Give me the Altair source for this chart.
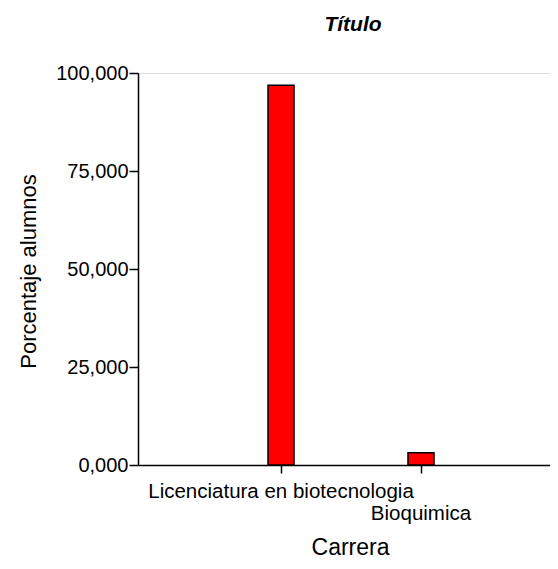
import altair as alt
import pandas as pd

carreras = ["Licenciatura en biotecnologia", "Bioquimica"]
porcentajes = [96.9, 3.1]
y_ticks = [0, 25, 50, 75, 100]

df = pd.DataFrame({"Carrera": carreras, "Porcentaje": porcentajes})

FONT = "Liberation Sans"

bars = alt.Chart(df).mark_bar(
    color="#FF0000", stroke="black", strokeWidth=1.5
).encode(
    x=alt.X(
        "Carrera:N",
        sort=carreras,
        scale=alt.Scale(paddingInner=0.814, paddingOuter=0.8786, align=0.5285),
        axis=alt.Axis(
            title="Carrera",
            labelAngle=0,
            labelFont=FONT,
            labelFontSize=20.5,
            labelColor="black",
            labelBaseline="top",
            labelPadding=8,
            labelLineHeight=22,
            labelExpr="datum.value == 'Bioquimica' ? ['', datum.value] : datum.value",
            labelLimit=0,
            tickSize=8,
            tickColor="black",
            tickWidth=1.5,
            domainColor="black",
            domainWidth=1.5,
            titleFont=FONT,
            titleFontSize=23,
            titleFontWeight="normal",
            titleColor="black",
            titleX=212,
            titleY=89,
            titleBaseline="alphabetic",
            titleAlign="center",
        ),
    ),
    y=alt.Y(
        "Porcentaje:Q",
        scale=alt.Scale(domain=[0, 100], nice=False),
        axis=alt.Axis(
            title="Porcentaje alumnos",
            values=y_ticks,
            labelExpr="replace(format(datum.value, '.3f'), '.', ',')",
            labelFont=FONT,
            labelFontSize=20,
            labelColor="black",
            labelPadding=1,
            tickSize=9,
            tickColor="black",
            tickWidth=1.5,
            domainColor="black",
            domainWidth=1.5,
            grid=False,
            titleFont=FONT,
            titleFontSize=22,
            titleFontWeight="normal",
            titleColor="black",
            titleAngle=-90,
            titleX=-103,
            titleY=198,
            titleBaseline="alphabetic",
            titleAlign="center",
        ),
    ),
)

chart = bars.properties(
    width=412,
    height=392,
    title=alt.TitleParams(
        "Título",
        font=FONT,
        fontSize=21,
        fontWeight="bold",
        fontStyle="italic",
        color="black",
        anchor="middle",
        frame="group",
        dx=9,
        offset=28,
    ),
    autosize=alt.AutoSizeParams(type="none"),
    padding={"left": 130, "top": 65, "right": 0, "bottom": 96},
).configure_view(stroke=None).configure(background="white")

chart.save("out.html", embed_options={"renderer": "svg", "actions": False})
